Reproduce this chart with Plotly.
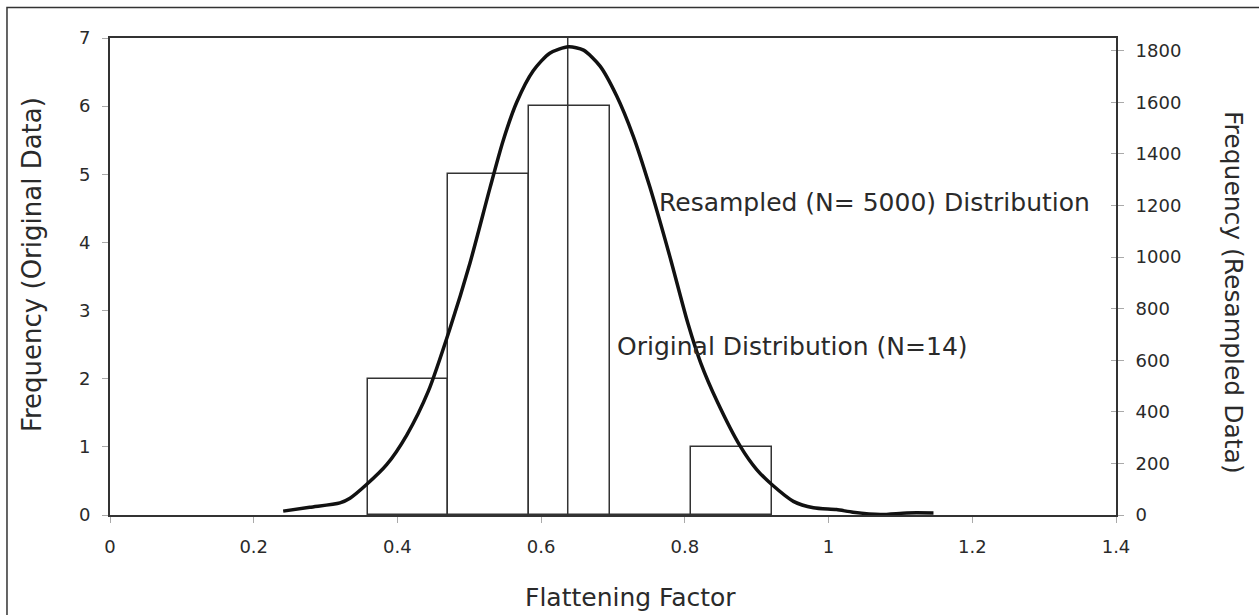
import plotly.graph_objects as go

# Original data histogram (N=14)
bin_left = [0.3585, 0.471, 0.5835, 0.696, 0.8085]
bin_width = 0.1125
orig_counts = [2, 5, 6, 0, 1]
orig_mean = 0.637

# Resampled (N=5000) distribution curve (right axis)
resamp_x = [0.241, 0.278, 0.320, 0.334, 0.357, 0.385, 0.413, 0.443, 0.473, 0.501,
            0.529, 0.547, 0.566, 0.589, 0.612, 0.638, 0.659, 0.682, 0.705, 0.728,
            0.751, 0.779, 0.804, 0.822, 0.845, 0.877, 0.900, 0.921, 0.951, 0.979,
            1.011, 1.034, 1.072, 1.109, 1.146]
resamp_y = [15, 30, 47, 65, 118, 195, 310, 480, 722, 977,
            1270, 1450, 1600, 1722, 1790, 1815, 1802, 1740, 1625, 1470,
            1274, 1003, 745, 590, 440, 267, 176, 118, 53, 28,
            21, 11, 2, 8, 8]

x_ticks = [0, 0.2, 0.4, 0.6, 0.8, 1.0, 1.2, 1.4]
x_ticktext = ["0", "0.2", "0.4", "0.6", "0.8", "1", "1.2", "1.4"]
y_ticks = [0, 1, 2, 3, 4, 5, 6, 7]
y2_ticks = [0, 200, 400, 600, 800, 1000, 1200, 1400, 1600, 1800]

FONT = "DejaVu Sans"
TXT = "#2a2a2a"
LINE = "#333333"

bin_centers = [b + bin_width / 2 for b in bin_left]

fig = go.Figure()
fig.add_trace(go.Bar(
    x=bin_centers, y=orig_counts, width=[bin_width] * len(bin_left),
    marker=dict(color="rgba(0,0,0,0)", line=dict(color=LINE, width=1.5)),
    yaxis="y", showlegend=False,
))
fig.add_trace(go.Scatter(
    x=[orig_mean, orig_mean], y=[0, 7], mode="lines",
    line=dict(color=LINE, width=1.5), yaxis="y", showlegend=False,
))
fig.add_trace(go.Scatter(
    x=resamp_x, y=resamp_y, mode="lines",
    line=dict(color="#111111", width=3.5, shape="spline", smoothing=0.7),
    yaxis="y2", showlegend=False,
))
# invisible trace to carry inner tick marks on the right axis
fig.add_trace(go.Scatter(
    x=[0, 1.4], y=[0, 1849], mode="markers", marker=dict(opacity=0),
    yaxis="y3", showlegend=False, hoverinfo="skip",
))

ann_font = dict(family=FONT, size=25, color=TXT)
fig.add_annotation(x=0.7028, y=2.47, xref="x", yref="y", xanchor="left", yanchor="middle",
                   text="Original Distribution (N=14)", showarrow=False, font=ann_font)
fig.add_annotation(x=0.7608, y=4.59, xref="x", yref="y", xanchor="left", yanchor="middle",
                   text="Resampled (N= 5000) Distribution", showarrow=False, font=ann_font)

# axis titles
fig.add_annotation(x=0.5169, y=-0.172, xref="paper", yref="paper",
                   xanchor="center", yanchor="middle", showarrow=False,
                   text="Flattening Factor", font=ann_font)
fig.add_annotation(x=-0.0775, y=0.524, xref="paper", yref="paper",
                   xanchor="center", yanchor="middle", showarrow=False, textangle=-90,
                   text="Frequency (Original Data)", font=dict(family=FONT, size=26, color=TXT))
fig.add_annotation(x=1.1173, y=0.4675, xref="paper", yref="paper",
                   xanchor="center", yanchor="middle", showarrow=False, textangle=90,
                   text="Frequency (Resampled Data)", font=ann_font)

# outer frame
fig.add_shape(type="rect", xref="paper", yref="paper",
              x0=-0.1024, y0=-0.25, x1=1.16, y1=1.0639,
              line=dict(color=LINE, width=1.5), layer="below")

tick_font = dict(family=FONT, size=18, color=TXT)
fig.update_layout(
    width=1259, height=615,
    margin=dict(l=110, r=143, t=38, b=100),
    paper_bgcolor="white", plot_bgcolor="white",
    font=dict(family=FONT, size=18, color=TXT),
    bargap=0,
    xaxis=dict(
        range=[0, 1.4], tickvals=x_ticks, ticktext=x_ticktext,
        showline=True, linecolor=LINE, linewidth=2, mirror=True,
        showgrid=False, zeroline=False,
        ticks="outside", ticklen=6, tickwidth=1, tickcolor="#aaaaaa",
        ticklabelstandoff=8, tickfont=tick_font,
    ),
    yaxis=dict(
        range=[0, 7], tickvals=y_ticks,
        showline=True, linecolor=LINE, linewidth=2,
        showgrid=False, zeroline=False,
        ticks="outside", ticklen=6, tickwidth=1, tickcolor="#aaaaaa",
        ticklabelstandoff=8, tickfont=tick_font,
    ),
    yaxis2=dict(
        range=[0, 1849], tickvals=y2_ticks, overlaying="y", side="right",
        showline=True, linecolor=LINE, linewidth=2,
        showgrid=False, zeroline=False,
        ticks="outside", ticklen=6, tickwidth=1, tickcolor="#aaaaaa",
        ticklabelstandoff=8, tickfont=tick_font,
    ),
    yaxis3=dict(
        range=[0, 1849], tickvals=y2_ticks, overlaying="y", side="right",
        showline=False, showgrid=False, zeroline=False, showticklabels=False,
        ticks="inside", ticklen=5, tickwidth=1, tickcolor="#aaaaaa",
    ),
)

fig.write_html("out.html")
